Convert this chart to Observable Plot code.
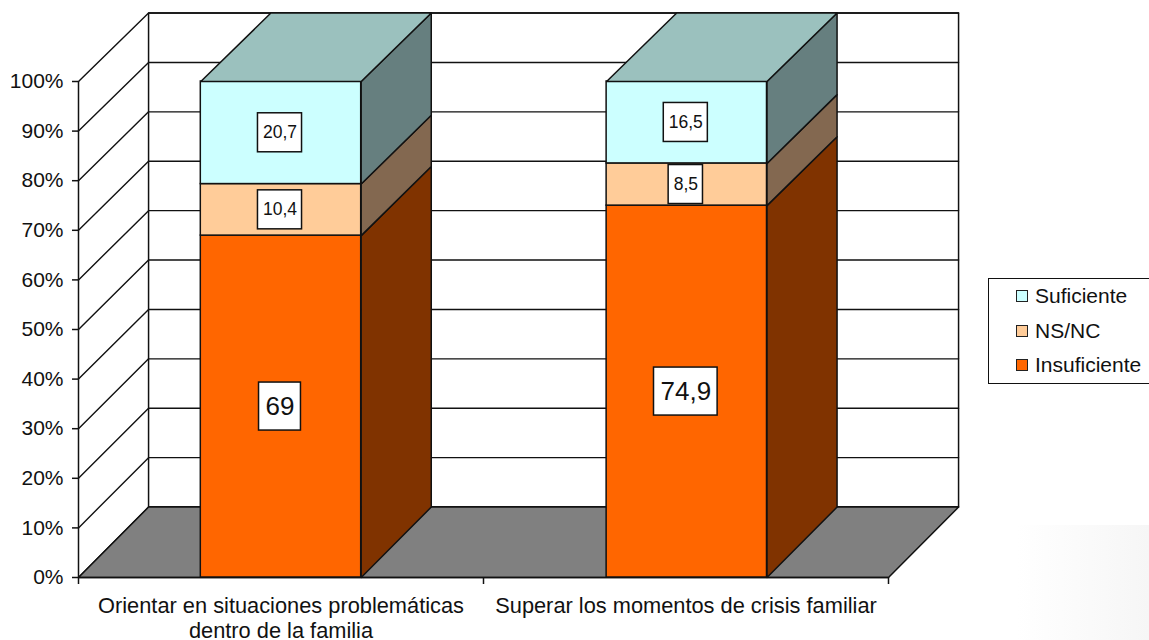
<!DOCTYPE html>
<html><head><meta charset="utf-8">
<script src="https://cdn.jsdelivr.net/npm/d3@7"></script>
<script src="https://cdn.jsdelivr.net/npm/@observablehq/plot@0.6"></script>
<style>
html,body{margin:0;padding:0;background:#fff;width:1149px;height:640px;overflow:hidden}
#wrap{position:relative;width:1149px;height:640px;font-family:"Liberation Sans",Arial,sans-serif;color:#000}
#fade{position:absolute;left:1017px;top:525px;width:132px;height:115px;background:linear-gradient(90deg,#fff,#f6f6f6)}
#legend{position:absolute;left:988px;top:278px;width:170px;height:106px;border:1.5px solid #111;background:#fff;box-sizing:border-box}
#legend div{position:absolute;left:46px;font-size:21px;line-height:22px;white-space:nowrap;color:#111}
#legend i{position:absolute;left:-19px;top:5px;width:10px;height:10px;border:1.5px solid #222;box-sizing:content-box}
svg{position:absolute;left:0;top:0;background:transparent}
</style></head><body>
<div id="wrap"><div id="fade"></div><div id="chart"></div><div id="legend"></div></div>
<script>
const categories=[["Orientar en situaciones problemáticas","dentro de la familia"],["Superar los momentos de crisis familiar"]];
const seriesNames=["Insuficiente","NS/NC","Suficiente"];
const insuficiente=[69,74.9];
const nsnc=[10.4,8.5];
const suficiente=[20.7,16.5];
const yTicks=[0,10,20,30,40,50,60,70,80,90,100];
const frontColors=["#FF6600","#FFCC99","#CCFFFF"];
const sideColors=["#803300","#836850","#667F7F"];
const topColor="#9BC1BE";
const wallColor="#FFFFFF";
const floorColor="#808080";

const dx=0.173, barL=0.302, barR=0.698, step=1.002;
const back=y=>y*0.996+14.2;
const seriesVals=[insuficiente,nsnc,suficiente];
function polyRows(list){let id=0;return list.flatMap(([pts,fill])=>{id++;return [...pts,pts[0]].map(p=>({id,x:p[0],y:p[1],fill}));});}
const front=[],labels=[],barFaces=[];
categories.forEach((cat,i)=>{
  const total=seriesVals.reduce((s,v)=>s+v[i],0);
  let acc=0; const l=i*step+barL,r=i*step+barR;
  seriesVals.forEach((v,j)=>{
    const y1=acc/total*100,y2=(acc+v[i])/total*100; acc+=v[i];
    front.push({x1:l,x2:r,y1,y2,fill:frontColors[j]});
    labels.push({x:(l+r)/2,y:(y1+y2)/2,v:v[i],big:j===0});
    barFaces.push([[[r,y1],[r+dx,back(y1)],[r+dx,back(y2)],[r,y2]],sideColors[j]]);
  });
  barFaces.push([[[l,100],[r,100],[r+dx,back(100)],[l+dx,back(100)]],topColor]);
});
const wall=polyRows([[[[dx,back(0)],[2+dx,back(0)],[2+dx,back(100)],[dx,back(100)]],wallColor]]);
const floor=polyRows([[[[0,0],[dx,back(0)],[2+dx,back(0)],[2,0]],floorColor]]);
const faces=polyRows(barFaces);
const grid=yTicks.flatMap((t,k)=>[{k,x:0,y:t},{k,x:dx,y:back(t)},{k,x:2+dx,y:back(t)}]);
const fmt=v=>String(v).replace(".",",");
const ctx=document.createElement("canvas").getContext("2d");
const smallSize=17.5,bigSize=26;
const boxes=labels.map(d=>{
  const fs=d.big?bigSize:smallSize; ctx.font=fs+'px "Liberation Sans"';
  const w=ctx.measureText(fmt(d.v)).width+(d.big?13:10);
  const h=d.big?24:19.5;
  return Plot.rect([d],{x1:"x",x2:"x",y1:"y",y2:"y",fill:"#fff",stroke:"#111",strokeWidth:1.5,
    insetLeft:-w/2-1,insetRight:-w/2+1,insetTop:-h,insetBottom:-h});
});
const polyMark=(data)=>Plot.line(data,{x:"x",y:"y",z:"id",fill:"fill",stroke:"#111",strokeWidth:1.5,curve:"linear"});
const plot=Plot.plot({
  width:1149,height:640,marginLeft:78,marginRight:261,marginTop:81,marginBottom:63,
  style:{background:"transparent",fontFamily:'"Liberation Sans",Arial,sans-serif',color:"#000"},
  x:{domain:[0,2]},
  y:{domain:[0,100]},
  marks:[
    polyMark(wall),
    Plot.line(grid,{x:"x",y:"y",z:"k",stroke:"#111",strokeWidth:1.4}),
    polyMark(floor),
    Plot.ruleX([0],{y1:0,y2:100,stroke:"#111",strokeWidth:1.5}),
    Plot.ruleY([0],{x1:0,x2:2,stroke:"#111",strokeWidth:1.5}),
    Plot.axisX({ticks:[0,1,2],tickSize:7,tickFormat:()=>"",label:null,stroke:"#111",strokeWidth:1.5,strokeOpacity:1}),
    Plot.axisY({ticks:yTicks,tickSize:6,tickPadding:9,tickFormat:d=>d+"%",label:null,fontSize:21,fill:"#111",stroke:"#111",strokeWidth:1.5,strokeOpacity:1}),
    Plot.rect(front,{x1:"x1",x2:"x2",y1:"y1",y2:"y2",fill:"fill",stroke:"#111",strokeWidth:1.5}),
    polyMark(faces),
    ...boxes,
    Plot.text(labels,{x:"x",y:"y",dx:-1,text:d=>fmt(d.v),fontSize:d=>d.big?bigSize:smallSize,fill:"#111"}),
    Plot.text(categories.map((c,i)=>({x:i+0.5,t:c.join("\n")})),{x:"x",y:0,text:"t",lineAnchor:"top",dy:18,fontSize:21.8,fill:"#111",lineHeight:1.15})
  ]
});
document.getElementById("chart").appendChild(plot);
const lg=document.getElementById("legend");
[2,1,0].forEach((j,k)=>{const e=document.createElement("div");e.style.top=(6+k*34.5)+"px";
  const sw=document.createElement("i");sw.style.background=frontColors[j];e.appendChild(sw);
  e.appendChild(document.createTextNode(seriesNames[j]));lg.appendChild(e);});
</script></body></html>
